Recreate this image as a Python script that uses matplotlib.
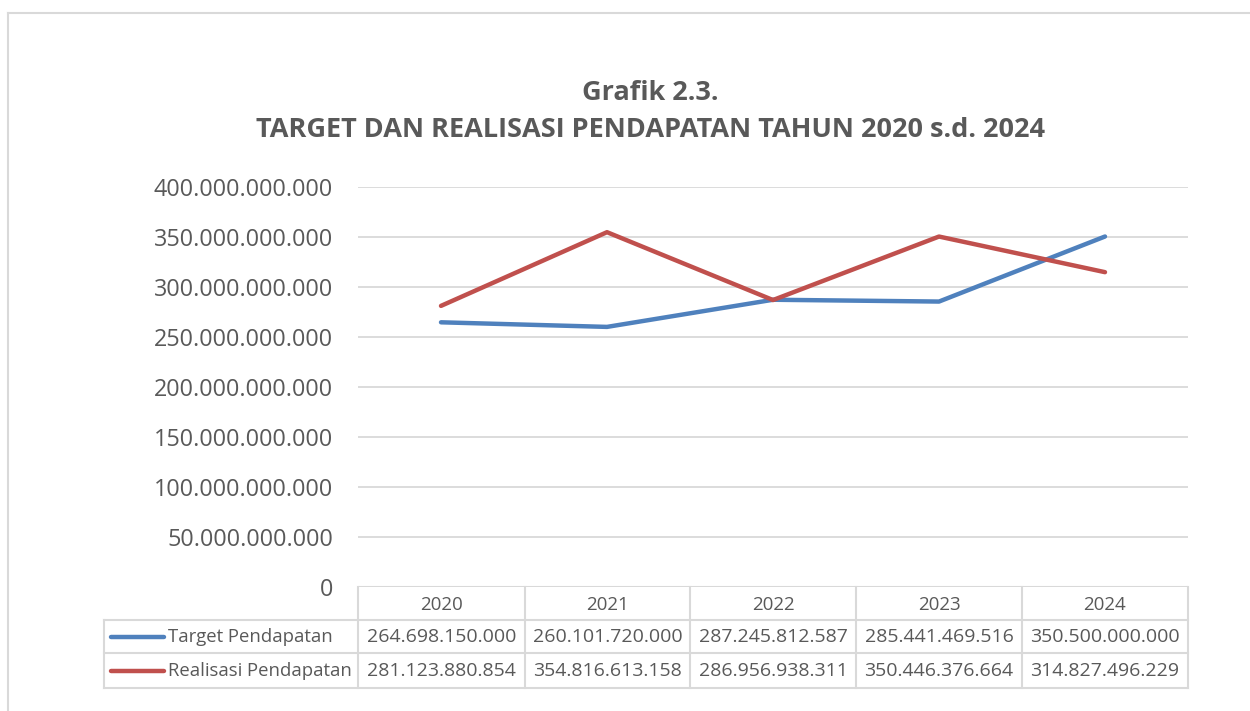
import matplotlib.pyplot as plt
from matplotlib.lines import Line2D

years = ["2020", "2021", "2022", "2023", "2024"]
series_names = ["Target Pendapatan", "Realisasi Pendapatan"]
target = [264698150000, 260101720000, 287245812587, 285441469516, 350500000000]
realisasi = [281123880854, 354816613158, 286956938311, 350446376664, 314827496229]
y_ticks = [0, 50e9, 100e9, 150e9, 200e9, 250e9, 300e9, 350e9, 400e9]

colors = ["#4F81BD", "#C0504D"]
txt = "#595959"
grid = "#D9D9D9"
W, H = 1250, 711

plt.rcParams['font.family'] = ['Open Sans', 'DejaVu Sans']


def fx(px):
    return px / W


def fy(py):
    return 1 - py / H


def fmt(v):
    return f"{int(round(v)):,}".replace(",", ".")


fig = plt.figure(figsize=(12.5, 7.11), dpi=100)

# chart border
fig.add_artist(Line2D([fx(8), fx(8)], [fy(13), fy(711)], color=grid, lw=1.5))
fig.add_artist(Line2D([fx(8), fx(1250)], [fy(13), fy(13)], color=grid, lw=1.5))

left, right, top, bottom = 358, 1188, 187, 587
ax = fig.add_axes([fx(left), fy(bottom), fx(right - left), fy(top) - fy(bottom)])

x = list(range(len(years)))
for vals, c, name in zip([target, realisasi], colors, series_names):
    ax.plot(x, vals, color=c, lw=3.2, solid_capstyle='round', label=name, zorder=3)

ax.set_xlim(-0.5, len(years) - 0.5)
ax.set_ylim(0, 400e9)
ax.set_yticks(y_ticks)
ax.set_yticklabels([fmt(v) for v in y_ticks], fontsize=16.8, color=txt)
ax.tick_params(axis='y', length=0, pad=18)
ax.set_xticks([])
ax.grid(axis='y', color=grid, lw=1.3)
ax.set_axisbelow(True)
for s in ax.spines.values():
    s.set_visible(False)
ax.axhline(0, color=grid, lw=1.5, zorder=2)

fig.text(fx(650), fy(93), "Grafik 2.3.", ha='center', va='center',
         fontsize=19.5, fontweight='bold', color=txt)
fig.text(fx(650), fy(130), "TARGET DAN REALISASI PENDAPATAN TAHUN 2020 s.d. 2024",
         ha='center', va='center', fontsize=19.5, fontweight='bold', color=txt)

# data table
col_edges = [358, 525, 690, 856, 1022, 1188]
row_edges = [587, 620, 653, 688]
tab_left = 104


def hline(y, x0, x1):
    fig.add_artist(Line2D([fx(x0), fx(x1)], [fy(y), fy(y)], color=grid, lw=1.5))


def vline(xp, y0, y1):
    fig.add_artist(Line2D([fx(xp), fx(xp)], [fy(y0), fy(y1)], color=grid, lw=1.5))


hline(row_edges[1], tab_left, right)
hline(row_edges[2], tab_left, right)
hline(row_edges[3], tab_left, right)
vline(tab_left, row_edges[1], row_edges[3])
for xe in col_edges:
    vline(xe, row_edges[0], row_edges[3])

for i, yr in enumerate(years):
    cx = (col_edges[i] + col_edges[i + 1]) / 2
    fig.text(fx(cx), fy((row_edges[0] + row_edges[1]) / 2 + 1), yr, ha='center', va='center',
             fontsize=13.5, color=txt)

for r, (vals, c, name) in enumerate(zip([target, realisasi], colors, series_names)):
    cy = (row_edges[r + 1] + row_edges[r + 2]) / 2
    fig.add_artist(Line2D([fx(111), fx(164)], [fy(cy), fy(cy)], color=c, lw=3.2,
                          solid_capstyle='round'))
    fig.text(fx(168), fy(cy), name, ha='left', va='center', fontsize=13.3, color=txt)
    for i, v in enumerate(vals):
        cx = (col_edges[i] + col_edges[i + 1]) / 2
        fig.text(fx(cx), fy(cy), fmt(v), ha='center', va='center', fontsize=14, color=txt)

fig.savefig("out.png", dpi=100)
